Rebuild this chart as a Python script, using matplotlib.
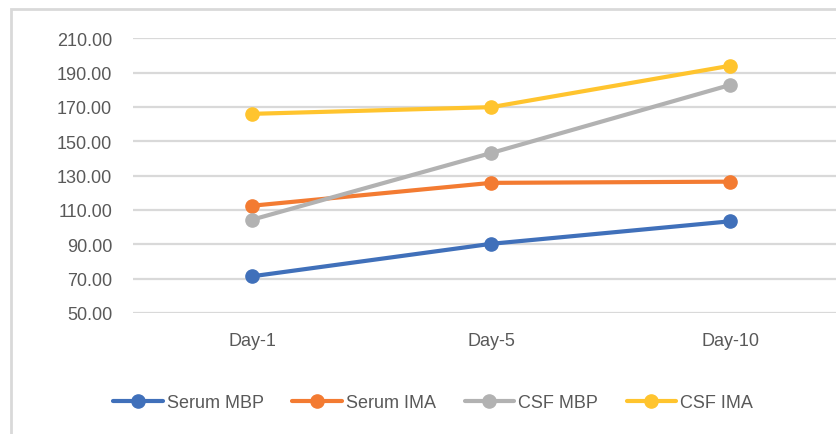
import matplotlib
matplotlib.use("Agg")
import matplotlib.pyplot as plt
from matplotlib.patches import Rectangle

days = ["Day-1", "Day-5", "Day-10"]
serum_mbp = [71.4, 90.3, 103.4]
serum_ima = [112.5, 125.8, 126.5]
csf_mbp = [104.4, 143.2, 182.8]
csf_ima = [166.0, 169.9, 194.0]

series = [
    ("Serum MBP", serum_mbp, "#4070BA"),
    ("Serum IMA", serum_ima, "#F37B32"),
    ("CSF MBP", csf_mbp, "#B2B2B2"),
    ("CSF IMA", csf_ima, "#FFC42E"),
]

plt.rcParams['font.family'] = ['Liberation Sans', 'DejaVu Sans']
txt = '#595959'

fig = plt.figure(figsize=(8.37, 4.35), dpi=100)

# chart border (Excel style), runs off the right/bottom edges
fig.patches.append(Rectangle((11 / 837, -0.1), 1.2, 1 - 10 / 435 + 0.1,
                             transform=fig.transFigure, fill=False,
                             edgecolor='#D9D9D9', linewidth=2))

ax = fig.add_axes([133 / 837, 121 / 435, 716.5 / 837, 274.7 / 435])

x = range(len(days))
for name, vals, col in series:
    ax.plot(x, vals, color=col, lw=3, marker='o', markersize=9.5,
            solid_capstyle='round', label=name, zorder=3)

ax.set_xlim(-0.5, 2.5)
ax.set_ylim(50, 210)
ax.set_yticks(range(50, 211, 20))
ax.set_yticklabels([f"{v:.2f}" for v in range(50, 211, 20)])
ax.set_xticks(list(x))
ax.set_xticklabels(days)
ax.grid(axis='y', color='#D9D9D9', lw=1.6)
ax.set_axisbelow(True)
for s in ax.spines.values():
    s.set_visible(False)
ax.tick_params(axis='both', length=0, labelsize=13, colors=txt)
ax.tick_params(axis='y', pad=15)
ax.tick_params(axis='x', pad=14)

fig.legend(loc='center', bbox_to_anchor=(433 / 837, 1 - 404 / 435),
           ncol=4, frameon=False, fontsize=13, labelcolor=txt,
           handlelength=2.75, handletextpad=0.2, columnspacing=1.6)

fig.savefig("out.png", dpi=100)
